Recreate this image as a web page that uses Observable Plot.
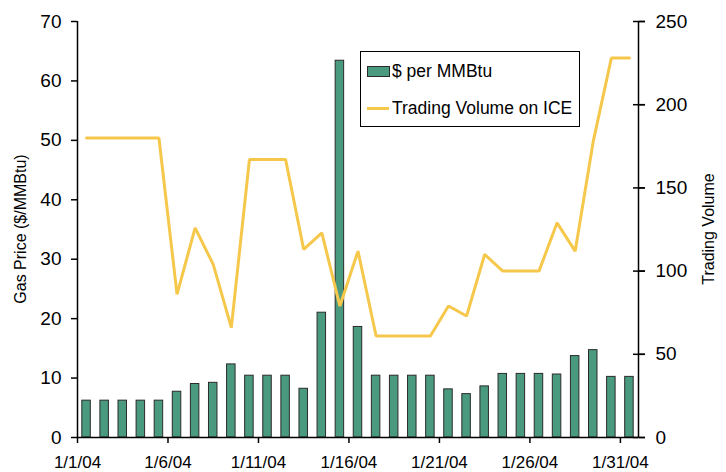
<!DOCTYPE html>
<html>
<head>
<meta charset="utf-8">
<script src="https://cdn.jsdelivr.net/npm/d3@7"></script>
<script src="https://cdn.jsdelivr.net/npm/@observablehq/plot@0.6"></script>
<style>
  html, body { margin: 0; padding: 0; background: #fff; }
  #wrap { position: relative; width: 726px; height: 472px; font-family: "Liberation Sans", Arial, sans-serif; }
  #legend { position: absolute; left: 360px; top: 51px; width: 220px; height: 76px; border: 1px solid #000; background: #fff; box-sizing: border-box; }
  .sw { position: absolute; }
  .lt { position: absolute; left: 31px; font-size: 17.5px; line-height: 20px; color: #000; white-space: nowrap; }
</style>
</head>
<body>
<div id="wrap"></div>
<script>
// Categories (trading days, January 2004)
const dates = [
  "2004-01-01","2004-01-02","2004-01-03","2004-01-04","2004-01-05","2004-01-06","2004-01-07","2004-01-08",
  "2004-01-09","2004-01-10","2004-01-11","2004-01-12","2004-01-13","2004-01-14","2004-01-15","2004-01-16",
  "2004-01-17","2004-01-18","2004-01-19","2004-01-20","2004-01-21","2004-01-22","2004-01-23","2004-01-24",
  "2004-01-25","2004-01-26","2004-01-27","2004-01-28","2004-01-29","2004-01-30","2004-01-31"
];
// Gas price, $ per MMBtu
const price = [
  6.2, 6.2, 6.2, 6.2, 6.2, 7.7, 9.0, 9.2, 12.3, 10.4, 10.4, 10.4, 8.2, 21.0, 63.4, 18.6,
  10.4, 10.4, 10.4, 10.4, 8.1, 7.3, 8.6, 10.7, 10.7, 10.7, 10.6, 13.7, 14.7, 10.2, 10.2
];
// Trading volume on ICE
const volume = [
  180, 180, 180, 180, 180, 86, 126, 104, 66, 167, 167, 167, 113, 123, 79, 112,
  61, 61, 61, 61, 79, 73, 110, 100, 100, 100, 129, 112, 178, 228, 228
];
// Axis ticks
const priceTicks = [0, 10, 20, 30, 40, 50, 60, 70];
const volumeTicks = [0, 50, 100, 150, 200, 250];
const xTickDates = ["2004-01-01","2004-01-06","2004-01-11","2004-01-16","2004-01-21","2004-01-26","2004-01-31"];
const domainDates = ["2004-01-01", "2004-02-01"];
const leftTitle = "Gas Price ($/MMBtu)";
const rightTitle = "Trading Volume";

const priceMax = 70, volMax = 250;
const toPrice = v => v * priceMax / volMax;

const data = dates.map((d, i) => ({date: new Date(d), price: price[i], volume: volume[i]}));
const xTicks = xTickDates.map(d => new Date(d));
const xDomain = domainDates.map(d => new Date(d));
const fmt = d3.utcFormat("%-m/%-d/%y");

const chart = Plot.plot({
  width: 726,
  height: 472,
  marginLeft: 77,
  marginRight: 88,
  marginTop: 21,
  marginBottom: 35,
  style: {fontFamily: "'Liberation Sans', Arial, sans-serif", fontSize: "17px", color: "#000", background: "#fff"},
  x: {type: "utc", domain: xDomain},
  y: {domain: [0, priceMax]},
  marks: [
    Plot.rectY(data, {
      x1: d => d.date,
      x2: d => d3.utcDay.offset(d.date, 1),
      y: "price",
      insetLeft: 4.8, insetRight: 4.8,
      fill: "#4a9a80", stroke: "#2b2b2b", strokeWidth: 1
    }),
    Plot.line(data, {
      x: d => d3.utcHour.offset(d.date, 12),
      y: d => toPrice(d.volume),
      stroke: "#f5c84c", strokeWidth: 3, strokeLinejoin: "miter"
    }),
    Plot.ruleX([xDomain[0]], {stroke: "#000", strokeWidth: 1.5}),
    Plot.ruleX([xDomain[1]], {stroke: "#000", strokeWidth: 1.5}),
    Plot.ruleY([0], {stroke: "#000", strokeWidth: 1.5}),
    Plot.axisY(priceTicks, {anchor: "left", tickSize: 6, tickPadding: 10, fontSize: 19, label: null, strokeWidth: 1.5}),
    Plot.axisY(volumeTicks.map(toPrice), {anchor: "right", tickSize: 6, tickPadding: 11, fontSize: 19, label: null,
      tickFormat: v => String(Math.round(v * volMax / priceMax)), strokeWidth: 1.5}),
    Plot.axisY(volumeTicks.map(toPrice), {anchor: "right", tickSize: 12, dx: -6, label: null,
      tickFormat: () => "", strokeWidth: 1.5}),
    Plot.axisX(xTicks, {anchor: "bottom", tickSize: 6, tickPadding: 12, fontSize: 17, label: null,
      tickFormat: fmt, strokeWidth: 1.5})
  ]
});

const wrap = document.getElementById("wrap");
wrap.appendChild(chart);

// Axis titles (rotated), centred on the plot frame
const svg = d3.select(chart);
const midY = (21 + 437) / 2;
svg.append("text")
  .attr("transform", `translate(26,${midY}) rotate(-90)`)
  .attr("text-anchor", "middle")
  .attr("font-size", 16)
  .attr("fill", "#000")
  .text(leftTitle);
svg.append("text")
  .attr("transform", `translate(714,${midY}) rotate(-90)`)
  .attr("text-anchor", "middle")
  .attr("font-size", 16)
  .attr("fill", "#000")
  .text(rightTitle);

// Legend
const legend = document.createElement("div");
legend.id = "legend";
legend.innerHTML = `
  <div class="sw" style="left:6px;top:14px;width:21px;height:9px;background:#4a9a80;border:1px solid #2b2b2b;"></div>
  <div class="lt" style="top:9px;">$ per MMBtu</div>
  <div class="sw" style="left:6px;top:55px;width:22px;height:3px;background:#f5c84c;"></div>
  <div class="lt" style="top:46px;">Trading Volume on ICE</div>
`;
wrap.appendChild(legend);
</script>
</body>
</html>
